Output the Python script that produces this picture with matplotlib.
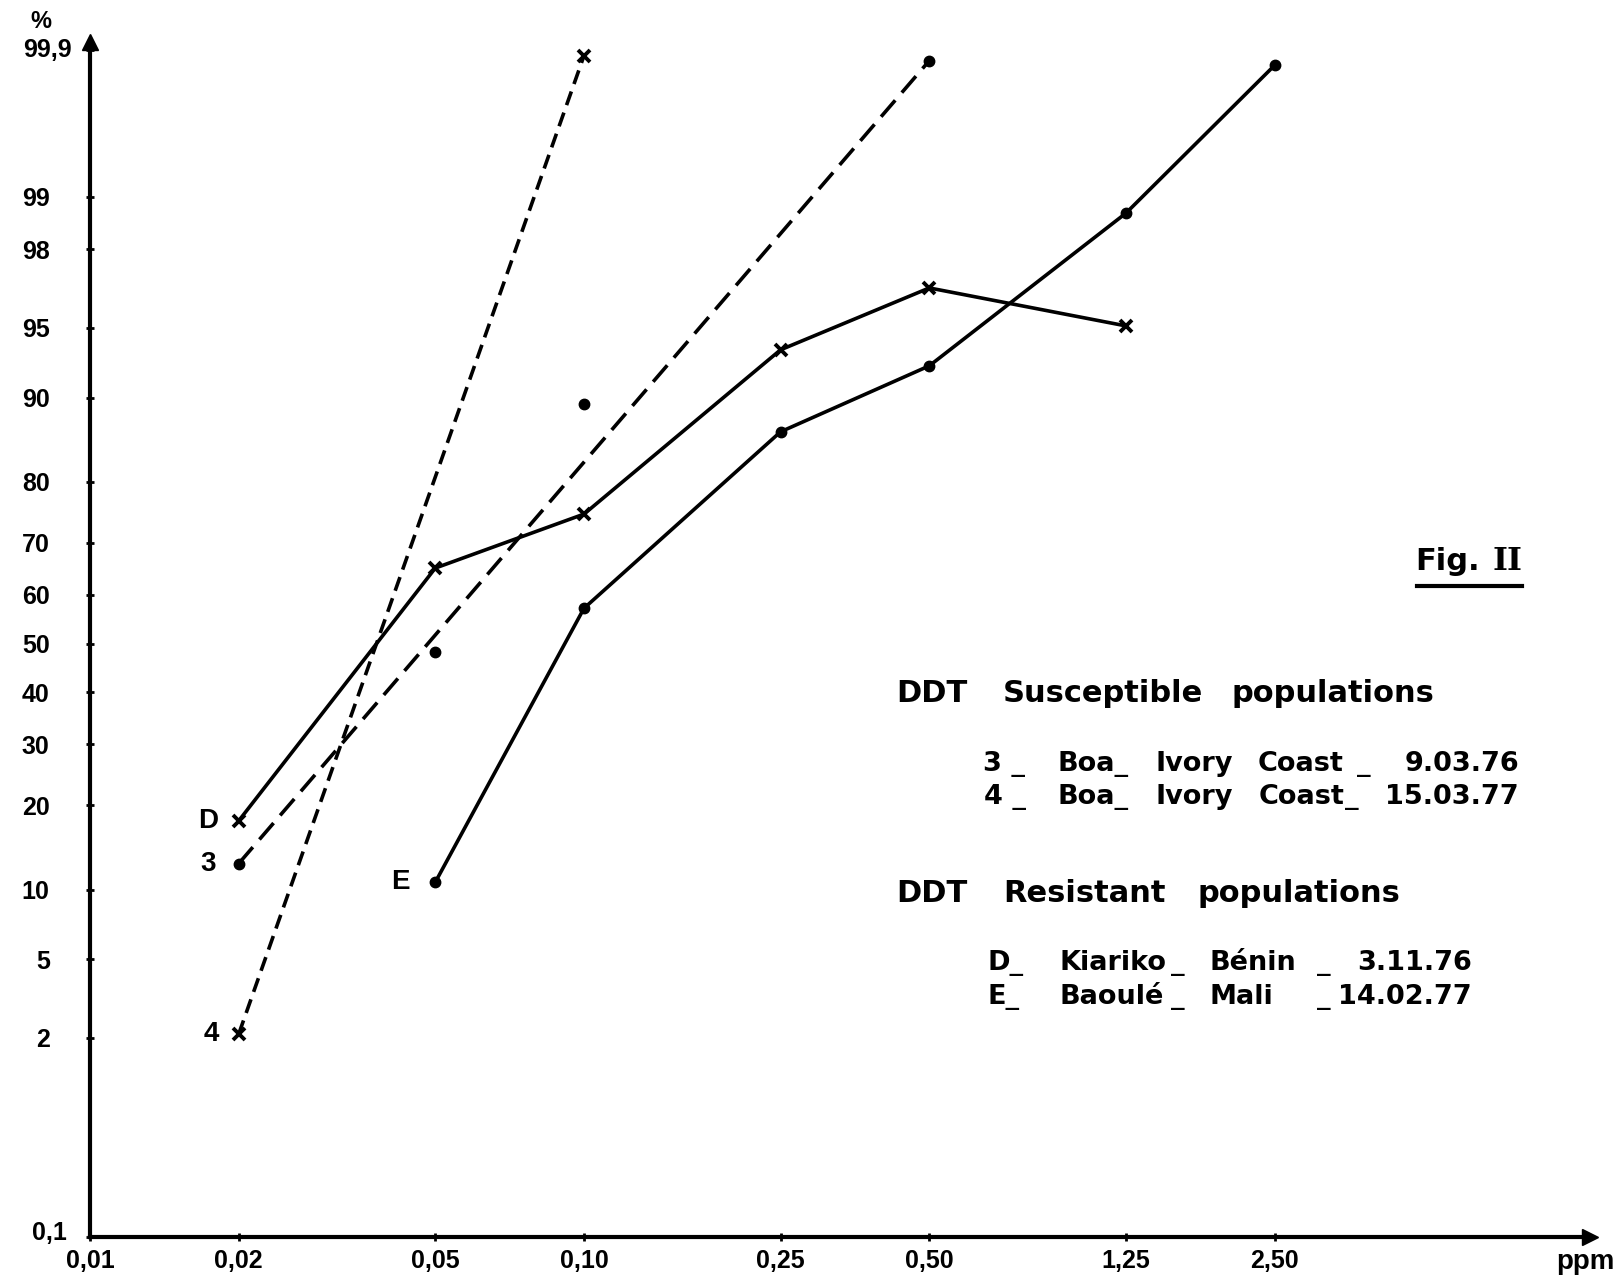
import math
import numpy as np
import matplotlib
matplotlib.use("Agg")
import matplotlib.pyplot as plt
from matplotlib.ticker import NullLocator
from matplotlib.lines import Line2D

# ---------------- data ----------------
x_ticks = [0.01, 0.02, 0.05, 0.10, 0.25, 0.50, 1.25, 2.50]
x_tick_labels = ["0,01", "0,02", "0,05", "0,10", "0,25", "0,50", "1,25", "2,50"]
y_ticks = [0.1, 2, 5, 10, 20, 30, 40, 50, 60, 70, 80, 90, 95, 98, 99, 99.9]
y_tick_labels = ["0,1", "2", "5", "10", "20", "30", "40", "50", "60", "70",
                 "80", "90", "95", "98", "99", "99,9"]

# Susceptible population 3 (observed dots + fitted line)
dose_3 = [0.02, 0.05, 0.10, 0.50]
mort_3 = [12.6, 48.2, 89.4, 99.88]
line_3_dose = [0.02, 0.50]
line_3_mort = [12.6, 99.88]

# Susceptible population 4
dose_4 = [0.02, 0.10]
mort_4 = [2.1, 99.89]

# Resistant population D
dose_D = [0.02, 0.05, 0.10, 0.25, 0.50, 1.25]
mort_D = [17.8, 65.3, 75.0, 93.7, 96.8, 95.1]

# Resistant population E
dose_E = [0.05, 0.10, 0.25, 0.50, 1.25, 2.50]
mort_E = [10.7, 57.3, 86.5, 92.6, 98.75, 99.87]

# legend text, split in words: (text, x_px, alignment)
legend_rows = [
    ("head", 693, [("DDT", 896, "left"), ("Susceptible", 1003, "left"),
                   ("populations", 1231, "left")]),
    ("item", 764, [("3 _", 983, "left"), ("Boa_", 1057, "left"),
                   ("Ivory", 1155, "left"), ("Coast", 1258, "left"),
                   ("_", 1357, "left"), ("9.03.76", 1519, "right")]),
    ("item", 797, [("4 _", 984, "left"), ("Boa_", 1057, "left"),
                   ("Ivory", 1155, "left"), ("Coast", 1259, "left"),
                   ("_", 1345, "left"), ("15.03.77", 1519, "right")]),
    ("head", 893, [("DDT", 896, "left"), ("Resistant", 1003, "left"),
                   ("populations", 1197, "left")]),
    ("item", 963, [("D_", 988, "left"), ("Kiariko", 1060, "left"),
                   ("_", 1171, "left"), ("Bénin", 1209, "left"),
                   ("_", 1317, "left"), ("3.11.76", 1472, "right")]),
    ("item", 997, [("E_", 988, "left"), ("Baoulé", 1060, "left"),
                   ("_", 1171, "left"), ("Mali", 1209, "left"),
                   ("_", 1317, "left"), ("14.02.77", 1472, "right")]),
]

# ---------------- probit scale ----------------
_a = [-3.969683028665376e+01, 2.209460984245205e+02, -2.759285104469687e+02,
      1.383577518672690e+02, -3.066479806614716e+01, 2.506628277459239e+00]
_b = [-5.447609879822406e+01, 1.615858368580409e+02, -1.556989798598866e+02,
      6.680131188771972e+01, -1.328068155288572e+01]
_c = [-7.784894002430293e-03, -3.223964580411365e-01, -2.400758277161838e+00,
      -2.549732539343734e+00, 4.374664141464968e+00, 2.938163982698783e+00]
_d = [7.784695709041462e-03, 3.224671290700398e-01, 2.445134137142996e+00,
      3.754408661907416e+00]


def _ppf(p):
    p = np.atleast_1d(np.asarray(p, dtype=float))
    shape = p.shape
    p = np.clip(p.ravel(), 1e-12, 1 - 1e-12)
    z = np.full_like(p, np.nan)
    plow = 0.02425
    lo = p < plow
    hi = p > 1 - plow
    mid = ~(lo | hi) & np.isfinite(p)
    q = np.sqrt(-2 * np.log(p[lo]))
    z[lo] = (((((_c[0]*q+_c[1])*q+_c[2])*q+_c[3])*q+_c[4])*q+_c[5]) / \
        ((((_d[0]*q+_d[1])*q+_d[2])*q+_d[3])*q+1)
    q = np.sqrt(-2 * np.log(1 - p[hi]))
    z[hi] = -(((((_c[0]*q+_c[1])*q+_c[2])*q+_c[3])*q+_c[4])*q+_c[5]) / \
        ((((_d[0]*q+_d[1])*q+_d[2])*q+_d[3])*q+1)
    q = p[mid] - 0.5
    r = q * q
    z[mid] = (((((_a[0]*r+_a[1])*r+_a[2])*r+_a[3])*r+_a[4])*r+_a[5])*q / \
        (((((_b[0]*r+_b[1])*r+_b[2])*r+_b[3])*r+_b[4])*r+1)
    return z.reshape(shape)


_erf = np.vectorize(math.erf, otypes=[float])


def fwd(pct):
    return _ppf(np.asarray(pct, dtype=float) / 100.0)


def inv(z):
    z = np.asarray(z, dtype=float)
    return 50.0 * (1.0 + _erf(z / math.sqrt(2.0)))


# ---------------- figure ----------------
W, H = 1616, 1280
fig = plt.figure(figsize=(W / 100, H / 100), dpi=100)
fig.patch.set_facecolor("white")

ax_left, ax_right, ax_top, ax_bot = 90, 1590, 42, 1237
ax = fig.add_axes([ax_left / W, 1 - ax_bot / H, (ax_right - ax_left) / W,
                   (ax_bot - ax_top) / H])

ax.set_xscale("log")
ax.set_yscale("function", functions=(fwd, inv))
ax.set_xlim(0.01, 0.01 * 10 ** ((ax_right - ax_left) / 494.0))
ax.set_ylim(0.1, float(inv(3.133)))

FONT = ["Liberation Sans", "DejaVu Sans"]
WIDE = ["DejaVu Sans"]

ax.set_xticks(x_ticks)
ax.set_xticklabels(x_tick_labels, fontsize=18, fontweight="bold", family=FONT)
ax.set_yticks(y_ticks)
# the two decimal labels sit further right in the original; drawn separately
shown_y = ["" if "," in t else t for t in y_tick_labels]
ax.set_yticklabels(shown_y, fontsize=18, fontweight="bold", family=FONT)
ax.xaxis.set_minor_locator(NullLocator())
ax.yaxis.set_minor_locator(NullLocator())
ax.tick_params(axis="y", direction="inout", length=6, width=2, pad=26)
ax.tick_params(axis="x", direction="inout", length=6, width=2, pad=6)

for val, lab in zip(y_ticks, y_tick_labels):
    if "," in lab:
        dx, dy = (-13, 0) if val > 50 else (-16.5, 3)
        ax.annotate(lab, xy=(0, val), xycoords=("axes fraction", "data"),
                    xytext=(dx, dy), textcoords="offset points", ha="right",
                    va="center", fontsize=18, fontweight="bold", family=FONT,
                    annotation_clip=False)

for s in ("top", "right"):
    ax.spines[s].set_visible(False)
for s in ("left", "bottom"):
    ax.spines[s].set_linewidth(3)
ax.plot([0], [1], marker="^", ms=12, color="k", transform=ax.transAxes,
        clip_on=False)
ax.plot([1], [0], marker=">", ms=12, color="k", transform=ax.transAxes,
        clip_on=False)

LW = 2.6
# series 4 : short dashes, x markers
ax.plot(dose_4, mort_4, color="k", lw=LW, ls=(0, (4.0, 2.2)),
        marker="x", ms=8, mew=2.8, clip_on=False)
# series 3 : long dashes, fitted line + observed dots
ax.plot(line_3_dose, line_3_mort, color="k", lw=LW, ls=(0, (6.0, 2.8)),
        clip_on=False)
ax.plot(dose_3, mort_3, ls="none", marker="o", ms=7.5, color="k",
        clip_on=False)
# series D : solid, x markers
ax.plot(dose_D, mort_D, color="k", lw=LW, marker="x", ms=8, mew=2.8,
        clip_on=False)
# series E : solid, dots
ax.plot(dose_E, mort_E, color="k", lw=LW, marker="o", ms=7.5,
        clip_on=False)

# point labels
for name, xs, ys, dx in (("D", dose_D, mort_D, -22), ("3", dose_3, mort_3, -22),
                         ("4", dose_4, mort_4, -20), ("E", dose_E, mort_E, -25)):
    ax.annotate(name, (xs[0], ys[0]), xytext=(dx, 0), textcoords="offset points",
                ha="center", va="center", fontsize=20, fontweight="bold",
                family=FONT)

# axis unit labels
fig.text(41 / W, 1 - 21 / H, "%", ha="center", va="center", fontsize=17,
         fontweight="bold", family=FONT)
fig.text(1 - 1 / W, 1 - 1262 / H, "ppm", ha="right", va="center", fontsize=20,
         fontweight="bold", family=FONT)

# Fig. II
fig.text(1415 / W, 1 - 561 / H, "Fig.", ha="left", va="center", fontsize=22,
         fontweight="bold", family=WIDE)
fig.text(1523 / W, 1 - 561 / H, "II", ha="right", va="center", fontsize=23,
         fontweight="bold", family=["DejaVu Serif", "DejaVu Sans"])
fig.add_artist(Line2D([1417 / W, 1522 / W], [1 - 586 / H, 1 - 586 / H],
                      color="k", lw=3, transform=fig.transFigure))

# legend block
for kind, py, words in legend_rows:
    for txt, px, ha in words:
        fig.text(px / W, 1 - py / H, txt, ha=ha, va="center",
                 fontsize=22 if kind == "head" else 19.5, fontweight="bold",
                 family=WIDE)

fig.savefig("out.png", dpi=100, facecolor="white")
